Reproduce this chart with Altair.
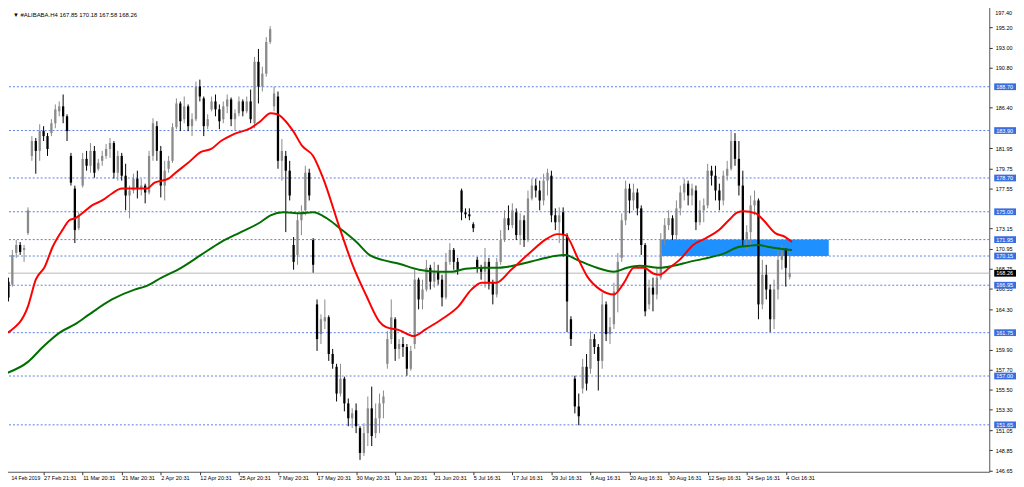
import altair as alt
import pandas as pd

# ---------------- data ----------------
opens = [167.02, 167.34, 167.02, 170.49, 171.36, 170.82, 172.66, 181.12, 182.75, 181.67,
         183.84, 183.29, 183.62, 184.70, 186.01, 186.55, 185.46, 181.12, 177.54, 173.20,
         177.87, 180.80, 180.04, 181.67, 179.71, 180.58, 181.12, 181.88, 182.53, 179.28,
         181.12, 178.95, 176.78, 177.33, 178.63, 177.54, 177.87, 177.11, 181.12, 184.38,
         181.67, 177.87, 179.71, 180.58, 184.27, 186.87, 185.14, 186.55, 184.38, 185.14,
         188.72, 187.42, 184.38, 186.22, 187.09, 186.22, 185.14, 186.55, 187.31, 185.14,
         185.79, 187.09, 186.01, 187.09, 184.70, 191.43, 188.72, 190.13, 193.60, 186.55,
         187.63, 180.58, 181.12, 179.50, 171.36, 170.27, 174.07, 175.16, 179.28, 171.90,
         164.85, 161.59, 163.00, 163.44, 159.42, 158.01, 155.08, 156.71, 154.00, 152.37,
         153.24, 151.29, 148.57, 150.74, 153.46, 150.74, 152.37, 154.00, 158.34, 161.05,
         163.22, 159.97, 160.51, 160.18, 157.80, 160.51, 167.56, 165.39, 166.48, 168.86,
         167.34, 168.43, 167.56, 165.61, 169.51, 170.82, 169.51, 177.33, 174.94, 174.72,
         173.64, 169.73, 168.86, 168.43, 169.51, 167.23, 165.93, 169.51, 171.90, 174.29,
         173.53, 174.94, 172.44, 174.07, 171.90, 176.46, 177.87, 177.33, 176.24, 178.41,
         178.95, 174.61, 173.85, 174.94, 172.44, 163.22, 156.71, 153.67, 155.63, 158.01,
         157.80, 161.05, 160.18, 158.66, 164.85, 161.59, 162.68, 166.26, 169.95, 174.07,
         177.54, 176.24, 177.11, 175.37, 171.36, 164.85, 166.69, 165.93, 167.78, 171.90,
         173.53, 174.29, 172.44, 175.37, 177.11, 178.08, 176.78, 177.33, 173.85, 175.16,
         175.70, 179.50, 178.95, 177.33, 176.24, 178.95, 179.71, 182.75, 180.80, 177.87,
         171.90, 172.77, 175.70, 176.24, 164.85, 168.10, 166.48, 163.22, 166.48, 169.73,
         170.82, 167.85]
highs = [168.43, 167.78, 170.82, 171.90, 171.68, 171.36, 175.48, 183.29, 183.08, 184.59,
         184.38, 183.62, 185.14, 186.76, 187.09, 187.85, 185.68, 181.45, 177.87, 174.94,
         181.45, 181.67, 182.53, 182.21, 180.80, 181.67, 182.42, 183.08, 182.75, 181.67,
         181.45, 180.26, 177.87, 179.17, 179.50, 178.63, 178.08, 181.67, 185.25, 184.92,
         182.21, 180.58, 181.12, 184.70, 187.42, 187.09, 187.63, 186.76, 185.79, 189.26,
         189.48, 187.63, 185.68, 187.63, 187.85, 186.76, 187.09, 187.85, 187.52, 186.22,
         187.63, 187.31, 187.63, 188.39, 191.97, 192.84, 190.89, 194.14, 195.34, 188.72,
         188.18, 182.97, 181.67, 180.58, 172.23, 174.94, 175.70, 180.04, 179.71, 172.12,
         165.39, 163.76, 165.39, 163.65, 159.97, 158.34, 158.34, 156.93, 154.54, 153.46,
         154.00, 151.50, 151.83, 154.76, 155.84, 154.00, 155.08, 155.41, 161.92, 165.39,
         163.44, 161.05, 161.27, 160.51, 160.29, 168.65, 167.78, 167.56, 169.73, 169.19,
         169.51, 169.19, 168.10, 170.49, 171.57, 171.03, 169.95, 177.54, 175.37, 175.37,
         173.85, 170.06, 169.19, 171.03, 169.95, 167.56, 169.95, 172.99, 175.16, 175.70,
         175.92, 175.37, 174.83, 174.61, 177.33, 178.63, 178.63, 178.41, 179.17, 179.71,
         179.50, 175.37, 175.48, 175.48, 172.66, 163.55, 157.04, 155.08, 158.88, 159.42,
         161.92, 161.59, 160.51, 166.15, 165.17, 163.44, 167.23, 170.49, 174.83, 178.41,
         178.08, 178.08, 177.54, 175.70, 171.57, 167.56, 167.78, 168.86, 172.66, 174.29,
         175.16, 174.61, 176.24, 177.87, 178.63, 178.41, 178.08, 177.87, 176.24, 176.46,
         180.26, 180.04, 180.04, 178.08, 179.50, 180.58, 183.84, 183.62, 182.75, 179.50,
         173.53, 176.78, 177.33, 176.46, 169.73, 169.19, 167.02, 167.56, 170.82, 171.36,
         171.03, 170.18]
lows = [166.69, 165.17, 166.80, 169.95, 170.27, 169.51, 172.44, 180.58, 179.17, 180.58,
        182.75, 181.12, 183.29, 184.16, 185.46, 184.70, 182.75, 177.87, 171.57, 172.99,
        177.65, 179.50, 179.28, 178.73, 179.50, 180.04, 180.80, 180.91, 178.63, 178.41,
        178.41, 175.16, 174.29, 177.00, 176.46, 176.78, 175.92, 176.89, 180.58, 180.58,
        176.57, 176.24, 179.28, 180.36, 184.05, 183.84, 184.70, 183.84, 183.29, 184.92,
        187.09, 183.29, 184.05, 186.01, 185.46, 184.05, 184.70, 185.79, 184.38, 183.84,
        185.46, 185.46, 185.79, 184.70, 184.16, 186.87, 188.18, 189.80, 193.38, 186.01,
        179.71, 178.41, 172.77, 176.24, 168.65, 169.19, 172.44, 174.61, 176.24, 168.32,
        159.75, 160.51, 162.14, 158.66, 157.80, 154.21, 154.76, 153.13, 151.50, 151.29,
        150.74, 147.81, 148.25, 149.33, 149.33, 150.20, 150.74, 152.37, 157.80, 160.51,
        158.66, 158.88, 159.10, 157.04, 157.58, 159.97, 164.31, 164.31, 166.26, 166.48,
        166.69, 167.02, 164.63, 165.39, 169.19, 168.65, 168.10, 174.07, 174.29, 174.07,
        172.77, 168.32, 167.56, 166.69, 166.48, 164.85, 165.61, 169.19, 171.68, 172.99,
        173.20, 171.90, 171.36, 171.14, 171.68, 176.24, 176.57, 175.16, 175.70, 176.78,
        173.85, 172.99, 171.57, 170.06, 161.81, 160.29, 152.91, 151.61, 155.08, 155.41,
        157.25, 159.42, 155.41, 157.80, 160.83, 160.51, 162.14, 163.98, 169.51, 173.53,
        174.83, 175.16, 174.61, 170.27, 163.55, 164.31, 164.09, 165.39, 167.56, 171.36,
        172.99, 171.90, 171.90, 174.61, 176.24, 175.70, 175.70, 172.99, 173.53, 173.85,
        175.37, 177.87, 176.24, 175.16, 175.70, 178.41, 179.50, 180.04, 176.78, 171.14,
        170.82, 171.36, 174.61, 163.22, 164.31, 165.39, 161.81, 162.14, 165.39, 168.65,
        166.80, 167.58]
closes = [168.10, 165.61, 170.27, 171.36, 170.60, 171.03, 175.16, 182.75, 181.67, 183.84,
          183.29, 181.88, 184.70, 186.22, 186.55, 185.46, 183.84, 178.19, 172.99, 174.61,
          180.80, 180.04, 181.67, 179.28, 180.36, 181.12, 181.88, 182.53, 179.28, 181.12,
          178.95, 176.78, 177.33, 178.63, 177.54, 177.87, 177.11, 181.12, 184.70, 181.67,
          177.87, 179.50, 180.58, 184.27, 186.87, 184.92, 186.55, 184.38, 185.14, 188.72,
          187.63, 184.38, 185.14, 187.09, 186.22, 184.92, 186.55, 187.31, 185.14, 185.79,
          187.09, 186.01, 187.09, 185.14, 191.43, 188.72, 190.13, 193.60, 195.01, 187.96,
          180.58, 181.67, 179.50, 176.78, 169.51, 174.07, 174.94, 179.28, 176.78, 169.19,
          161.05, 163.22, 163.44, 159.42, 158.34, 155.08, 156.71, 154.00, 152.37, 152.91,
          151.50, 148.57, 150.74, 153.46, 150.42, 152.37, 154.00, 154.76, 161.05, 163.44,
          159.97, 160.51, 160.18, 157.80, 159.75, 167.56, 165.39, 166.48, 168.86, 167.34,
          168.43, 167.56, 165.61, 169.51, 170.82, 169.51, 168.65, 174.94, 174.72, 174.50,
          173.20, 168.86, 168.43, 169.51, 167.23, 165.93, 169.51, 171.90, 174.29, 173.53,
          175.16, 172.44, 174.07, 171.90, 176.46, 177.87, 177.33, 176.24, 178.41, 179.28,
          174.61, 173.85, 174.61, 172.44, 165.17, 161.05, 153.67, 152.59, 158.01, 156.17,
          161.05, 160.18, 158.66, 164.85, 161.59, 162.35, 166.26, 169.51, 174.07, 177.54,
          176.24, 177.11, 175.37, 171.36, 164.09, 166.69, 165.93, 167.78, 171.90, 173.53,
          174.29, 172.44, 175.37, 177.11, 178.08, 176.78, 177.54, 173.85, 175.16, 175.70,
          179.50, 178.95, 177.33, 176.24, 178.95, 179.71, 182.75, 180.80, 177.87, 171.90,
          172.77, 175.70, 176.24, 164.85, 168.10, 166.48, 163.22, 166.48, 169.73, 170.60,
          168.86, 168.26]

# moving averages (bar index, value)
red_idx = [0, 1.4, 6.0, 8.0, 10.3, 12.3, 14.8, 16.6, 18.1, 19.9, 22.4, 25.0, 27.5, 30.0, 31.8,
           36.4, 38.4, 42.0, 43.5, 47.0, 50.3, 52.9, 55.4, 58.7, 63.0, 65.5, 68.1, 69.8, 73.9,
           76.2, 79.0, 81.5, 85.8, 89.1, 92.6, 95.9, 97.7, 101.0, 104.8, 107.9, 111.9, 116.2,
           119.5, 122.1, 125.9, 129.7, 134.7, 138.3, 141.6, 143.6, 146.6, 149.2, 152.5, 156.0,
           158.6, 161.1, 163.6, 166.2, 167.7, 170.2, 172.8, 176.3, 179.6, 182.9, 185.4, 187.7,
           189.2, 192.3, 194.3, 197.3, 199.9, 201.6]
red_val = [161.59, 161.92, 164.63, 167.56, 168.97, 171.14, 172.99, 174.07, 174.29, 174.83,
           175.70, 176.24, 177.00, 177.54, 177.54, 177.54, 178.19, 178.63, 179.17, 180.36,
           181.56, 181.88, 182.75, 183.51, 184.16, 184.92, 185.79, 185.68, 183.83, 182.21,
           181.12, 178.74, 173.20, 169.19, 165.82, 163.00, 162.35, 162.03, 161.38, 162.15,
           163.22, 164.63, 166.47, 167.23, 167.23, 168.65, 170.60, 171.90, 172.55, 172.44,
           170.06, 167.89, 166.47, 165.93, 167.23, 168.86, 168.86, 168.21, 168.10, 168.86,
           169.73, 171.36, 172.12, 172.99, 174.07, 174.94, 175.05, 174.83, 174.07, 172.66,
           172.23, 171.68]
green_idx = [0.1, 6.0, 9.8, 14.3, 18.1, 21.7, 27.5, 33.3, 35.9, 40.2, 45.2, 50.3, 55.4, 60.5,
             65.5, 68.1, 71.4, 75.7, 79.0, 82.5, 85.8, 90.1, 93.4, 96.7, 101.0, 106.1, 111.2,
             114.5, 118.0, 123.1, 126.4, 131.4, 136.5, 140.8, 143.6, 146.6, 151.7, 156.0,
             159.3, 162.6, 167.7, 171.2, 175.3, 178.8, 183.9, 187.9, 190.2, 193.0, 195.6,
             199.1, 201.6]
green_val = [157.25, 158.55, 160.18, 161.81, 162.68, 163.76, 165.39, 166.47, 166.80, 167.78,
             168.86, 170.27, 171.68, 172.77, 173.85, 174.61, 174.94, 174.83, 174.94, 174.29,
             173.20, 171.68, 170.27, 169.73, 169.30, 168.65, 168.43, 168.43, 168.75, 168.86,
             168.86, 169.19, 169.73, 170.16, 170.27, 169.73, 168.86, 168.43, 168.86, 169.08,
             168.86, 169.08, 169.51, 169.84, 170.38, 171.14, 171.25, 171.36, 171.14, 170.92,
             170.81]

levels = [188.70, 183.90, 178.70, 175.00, 171.95, 170.15, 166.95, 161.75, 157.00, 151.65]
last_price = 168.26
zone_idx = [167.9, 211.0]
zone_price = [170.15, 171.95]

top_tick = 197.40
price_ticks = [195.20, 193.00, 190.80, 186.40, 181.95, 179.75, 177.55,
               173.15, 170.95, 168.75, 166.55, 164.30, 159.90, 157.70, 155.50,
               153.30, 151.05, 148.85, 146.65]
date_labels = ["14 Feb 2019", "27 Feb 21:31", "11 Mar 20:31", "21 Mar 20:31", "2 Apr 20:31",
               "12 Apr 20:31", "25 Apr 20:31", "7 May 20:31", "17 May 20:31", "30 May 20:31",
               "11 Jun 20:31", "21 Jun 20:31", "5 Jul 16:31", "17 Jul 16:31", "29 Jul 16:31",
               "8 Aug 16:31", "20 Aug 16:31", "30 Aug 16:31", "12 Sep 16:31", "24 Sep 16:31",
               "4 Oct 16:31"]
date_idx = [10 * k for k in range(len(date_labels))]
title_text = "\u25bc #ALIBABA.H4  167.85 170.18 167.58 168.26"

# ---------------- chart ----------------
W, H = 996, 474
FONT = "Liberation Sans"
FS = 5.6

df = pd.DataFrame({"i": list(range(len(opens))), "o": opens, "h": highs, "l": lows, "c": closes})
df["dir"] = ["up" if c >= o else "down" for o, c in zip(opens, closes)]

xs = alt.Scale(domain=[-0.38, 252.09], nice=False, zero=False)
ys = alt.Scale(domain=[146.51, 197.94], nice=False, zero=False)

# first label is drawn separately so that it is not cut at the left edge
label_expr = ("['" + "','".join([""] + date_labels[1:]) + "'][round(datum.value/10)]")
x_axis = alt.Axis(values=date_idx, labelExpr=label_expr, labelAlign="left", labelBaseline="top",
                  labelFlush=False, labelOverlap=False, tickSize=3, labelPadding=1, domain=False,
                  grid=False, title=None, labelFontSize=FS, labelFont=FONT, labelColor="#000",
                  tickColor="#333")
y_axis = alt.Axis(orient="right", values=price_ticks, format=".2f", labelFontSize=FS,
                  labelFont=FONT, labelColor="#000", tickSize=3, tickColor="#333", labelPadding=3,
                  domain=False, grid=False, title=None, labelOverlap=False, labelFlush=False)


def X(field):
    return alt.X(field, scale=xs, axis=x_axis)


def Y(field):
    return alt.Y(field, scale=ys, axis=y_axis)


color = alt.Color("dir:N", scale=alt.Scale(domain=["up", "down"], range=["#8a8a8a", "#000000"]),
                  legend=None)

zone_df = pd.DataFrame({"x0": [zone_idx[0]], "x1": [zone_idx[1]],
                        "y0": [zone_price[0]], "y1": [zone_price[1]]})
zone = alt.Chart(zone_df).mark_rect(color="#1e90ff").encode(
    x=X("x0:Q"), x2="x1:Q", y=Y("y0:Q"), y2="y1:Q")

lev_df = pd.DataFrame({"p": levels})
lev_lines = alt.Chart(lev_df).mark_rule(color="#5a7ee6", strokeDash=[2, 2], strokeWidth=1).encode(
    y=Y("p:Q"))

last_df = pd.DataFrame({"p": [last_price]})
last_line = alt.Chart(last_df).mark_rule(color="#cfcfcf", strokeWidth=1.6).encode(y=Y("p:Q"))

wicks = alt.Chart(df).mark_rule(strokeWidth=1).encode(
    x=X("i:Q"), y=Y("l:Q"), y2="h:Q", color=color)
bodies = alt.Chart(df).mark_rule(strokeWidth=2.3).encode(
    x=X("i:Q"), y=Y("o:Q"), y2="c:Q", color=color)

red_df = pd.DataFrame({"i": red_idx, "v": red_val})
green_df = pd.DataFrame({"i": green_idx, "v": green_val})
red = alt.Chart(red_df).mark_line(color="#ff0000", strokeWidth=2, interpolate="monotone").encode(
    x=X("i:Q"), y=Y("v:Q"))
green = alt.Chart(green_df).mark_line(color="#006e00", strokeWidth=2, interpolate="monotone").encode(
    x=X("i:Q"), y=Y("v:Q"))

lab_df = pd.DataFrame({"p": levels})
lab_df["top"] = lab_df["p"] + 0.37
lab_df["bot"] = lab_df["p"] - 0.37
lab_box = alt.Chart(lab_df).mark_rect(color="#3a6ee0").encode(
    x=alt.value(W + 5), x2=alt.value(W + 27), y=Y("top:Q"), y2="bot:Q")
lab_txt = alt.Chart(lab_df).mark_text(align="left", baseline="middle", color="white",
                                      fontSize=FS, font=FONT).encode(
    x=alt.value(W + 7), y=Y("p:Q"), text=alt.Text("p:Q", format=".2f"))

last_lab_df = pd.DataFrame({"p": [last_price], "top": [last_price + 0.37], "bot": [last_price - 0.37]})
last_box = alt.Chart(last_lab_df).mark_rect(color="#000000").encode(
    x=alt.value(W + 5), x2=alt.value(W + 27), y=Y("top:Q"), y2="bot:Q")
last_txt = alt.Chart(last_lab_df).mark_text(align="left", baseline="middle", color="white",
                                            fontSize=FS, font=FONT).encode(
    x=alt.value(W + 7), y=Y("p:Q"), text=alt.Text("p:Q", format=".2f"))

title_df = pd.DataFrame({"t": [title_text]})
title = alt.Chart(title_df).mark_text(align="left", baseline="middle", fontSize=6, font=FONT,
                                      color="#000").encode(
    x=alt.value(10), y=alt.value(13), text="t:N")

first_df = pd.DataFrame({"t": [date_labels[0]]})
first_lab = alt.Chart(first_df).mark_text(align="left", baseline="top", fontSize=5.2, font=FONT,
                                          color="#000").encode(
    x=alt.value(8.5), y=alt.value(H + 4), text="t:N")

top_df = pd.DataFrame({"t": [f"{top_tick:.2f}"]})
top_lab = alt.Chart(top_df).mark_text(align="left", baseline="middle", fontSize=FS, font=FONT,
                                      color="#000").encode(
    x=alt.value(W + 6), y=alt.value(11), text="t:N")

chart = alt.layer(zone, lev_lines, last_line, wicks, bodies, green, red,
                  lab_box, lab_txt, last_box, last_txt, title, first_lab, top_lab).properties(
    width=W, height=H, padding={"left": -8, "top": -8, "right": 0, "bottom": 0},
    background="white"
).configure_view(stroke="#555", strokeWidth=1)

chart.save("out.html", embed_options={"renderer": "svg", "actions": False})
